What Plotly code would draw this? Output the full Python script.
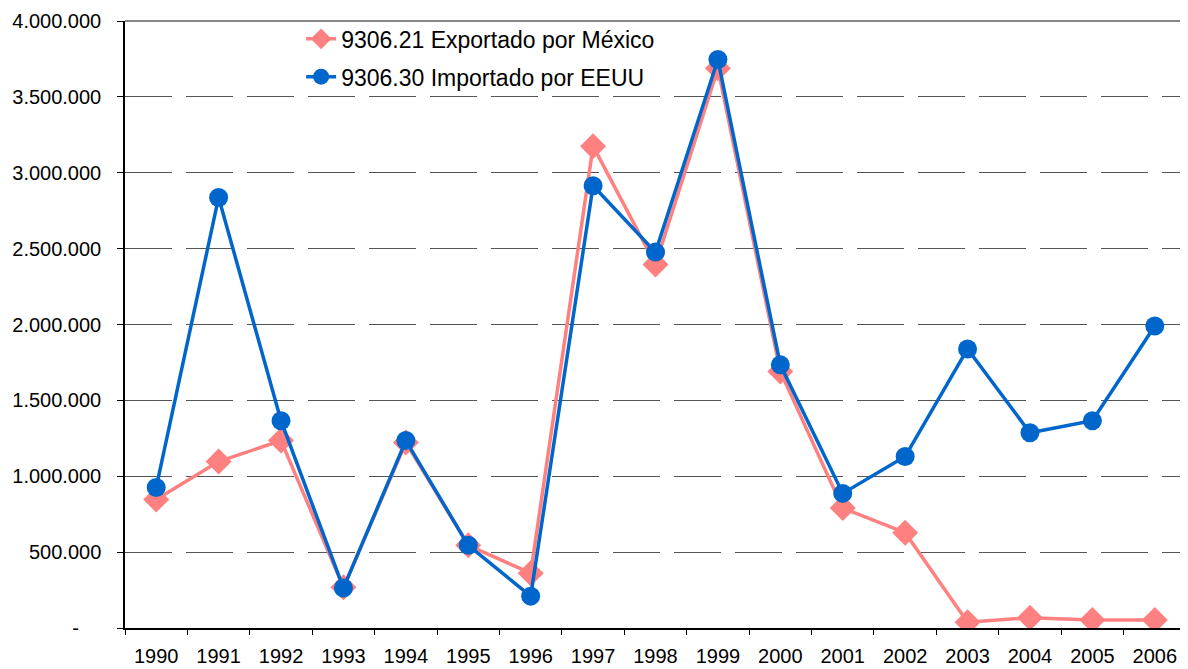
import plotly.graph_objects as go

years = [str(y) for y in range(1990, 2007)]
mexico = [847000, 1097000, 1235000, 268000, 1222000, 545000, 361000, 3175000, 2396000,
          3688000, 1690000, 790000, 628000, 38000, 68000, 52000, 52000]
eeuu = [926000, 2837000, 1366000, 263000, 1235000, 545000, 210000, 2914000, 2477000,
        3746000, 1734000, 887000, 1130000, 1839000, 1287000, 1366000, 1990000]
ytickvals = [0, 500000, 1000000, 1500000, 2000000, 2500000, 3000000, 3500000, 4000000]
yticktext = ["-" + "\u00a0" * 4, "500.000", "1.000.000", "1.500.000", "2.000.000", "2.500.000",
             "3.000.000", "3.500.000", "4.000.000"]

fig = go.Figure()
fig.add_trace(go.Scatter(
    x=years, y=mexico, mode="lines+markers", name="9306.21 Exportado por México",
    legendgroup="mx",
    line=dict(color="#FF8080", width=3.5),
    marker=dict(symbol="diamond", size=20, color="#FF8080")))
fig.add_trace(go.Scatter(
    x=years, y=eeuu, mode="lines+markers", name="9306.30 Importado por EEUU",
    legendgroup="us",
    line=dict(color="#0066CC", width=3.5),
    marker=dict(symbol="circle", size=19, color="#0066CC")))

fig.update_layout(
    width=1180, height=661,
    margin=dict(l=117, r=2, t=11, b=41),
    paper_bgcolor="white", plot_bgcolor="white",
    font=dict(family="Liberation Sans, Arial, sans-serif", size=20, color="black"),
    showlegend=True,
    legend=dict(x=0.166, y=1.006, xanchor="left", yanchor="top",
                bgcolor="rgba(255,255,255,0)", font=dict(size=23), tracegroupgap=5),
    xaxis=dict(type="category", tickson="boundaries", ticks="outside", ticklen=5,
               tickcolor="black", showline=True, linecolor="black", linewidth=1.5,
               showgrid=False, zeroline=False, range=[-0.5, 16.5],
               ticklabelstandoff=9, tickfont=dict(size=20)),
    yaxis=dict(range=[0, 4000000], tickvals=ytickvals, ticktext=yticktext,
               ticks="outside", ticklen=6, tickcolor="black", showline=True,
               linecolor="black", linewidth=1.5, showgrid=True, gridcolor="#555555",
               gridwidth=1, griddash="47px,14px", zeroline=False,
               ticklabelstandoff=12, tickfont=dict(size=20)),
    shapes=[
        dict(type="line", xref="paper", yref="paper", x0=0, x1=1, y0=1, y1=1,
             line=dict(color="#888888", width=2)),
        dict(type="line", xref="paper", yref="paper", x0=1, x1=1, y0=0, y1=1,
             line=dict(color="#888888", width=2)),
    ],
)

fig.write_html("out.html")
